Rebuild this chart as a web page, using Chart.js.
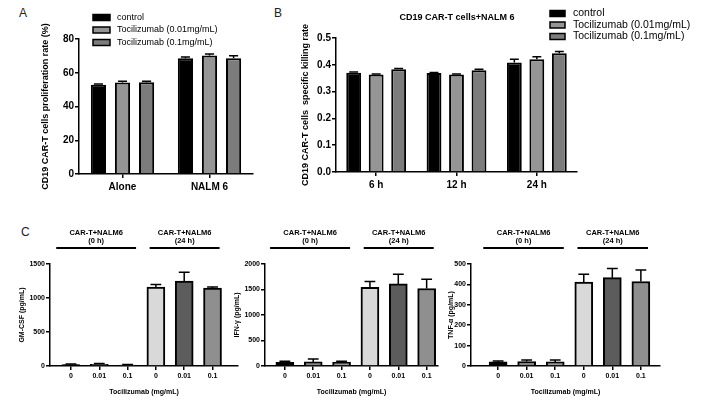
<!DOCTYPE html>
<html>
<head>
<meta charset="utf-8">
<script src="https://cdn.jsdelivr.net/npm/chart.js@4.4.0/dist/chart.umd.min.js"></script>
<style>
  body { margin: 0; background: #fff; }
  #wrap { position: relative; width: 701px; height: 411px; overflow: hidden; font-family: Arial, "Liberation Sans", sans-serif; }
  canvas { position: absolute; }
  .tag { position: absolute; font-size: 12px; color: #222; }
</style>
</head>
<body>
<div id="wrap">
  <div class="tag" style="left:19px;top:6px">A</div>
  <div class="tag" style="left:274px;top:6px">B</div>
  <div class="tag" style="left:21px;top:225px">C</div>
  <canvas id="chartA" width="265" height="200" style="left:0;top:0"></canvas>
  <canvas id="chartB" width="431" height="200" style="left:270px;top:0"></canvas>
  <canvas id="chartGM" width="240" height="216" style="left:0;top:195px"></canvas>
  <canvas id="chartIFN" width="226" height="216" style="left:228px;top:195px"></canvas>
  <canvas id="chartTNF" width="261" height="216" style="left:440px;top:195px"></canvas>
</div>
<script>
// legend groups (panels A and B)
var groupNames = ["control", "Tocilizumab (0.01mg/mL)", "Tocilizumab (0.1mg/mL)"];
var groupColors = ["#000000", "#959595", "#7c7c7c"];

// A - proliferation rate (%)
var prolifLabels = ["Alone", "NALM 6"];
var prolifControl = [52.9, 68.6];
var prolifToci001 = [54.2, 70.2];
var prolifToci01 = [54.4, 68.6];
var prolifControlErr = [0.5, 0.8];
var prolifToci001Err = [0.7, 0.9];
var prolifToci01Err = [0.6, 1.5];

// B - specific killing rate
var killTitle = "CD19 CAR-T cells+NALM 6";
var killLabels = ["6 h", "12 h", "24 h"];
var killControl = [0.370, 0.369, 0.409];
var killToci001 = [0.364, 0.364, 0.421];
var killToci01 = [0.383, 0.380, 0.443];
var killControlErr = [0.003, 0.002, 0.012];
var killToci001Err = [0.002, 0.002, 0.009];
var killToci01Err = [0.003, 0.003, 0.007];

// C - cytokines (pg/mL)
var doseLabels = ["0", "0.01", "0.1", "0", "0.01", "0.1"];
var doseColors = ["#000000", "#858585", "#979797", "#d9d9d9", "#5c5c5c", "#8f8f8f"];
var timeGroups = [["CAR-T+NALM6", "(0 h)"], ["CAR-T+NALM6", "(24 h)"]];
var gmcsf = [20, 25, 15, 1160, 1250, 1145];
var gmcsfErr = [8, 10, 6, 40, 130, 15];
var ifng = [70, 80, 75, 1545, 1610, 1520];
var ifngErr = [25, 55, 20, 110, 190, 180];
var tnfa = [20, 22, 20, 411, 433, 414];
var tnfaErr = [5, 7, 9, 39, 45, 56];

var FONT = 'Arial, "Liberation Sans", Helvetica, sans-serif';
Chart.defaults.font.family = FONT;
Chart.defaults.color = '#000';
Chart.defaults.animation = false;
Chart.defaults.responsive = false;
Chart.defaults.plugins.legend.display = false;
Chart.defaults.plugins.tooltip.enabled = false;

// upper error bars (mean + SD) on top of every bar
var errorBarPlugin = {
    id: 'errorBars',
    afterDatasetsDraw: function (chart) {
        var ctx = chart.ctx;
        var yScale = chart.scales.y;
        ctx.save();
        ctx.strokeStyle = '#000';
        ctx.lineWidth = 1.5;
        chart.data.datasets.forEach(function (ds, di) {
            if (!ds.errors) return;
            var meta = chart.getDatasetMeta(di);
            meta.data.forEach(function (bar, i) {
                var v = typeof ds.data[i] === 'object' ? ds.data[i].y : ds.data[i];
                var top = yScale.getPixelForValue(v + ds.errors[i]);
                var half = bar.width * 0.3;
                ctx.beginPath();
                ctx.moveTo(bar.x, bar.y);
                ctx.lineTo(bar.x, top);
                ctx.moveTo(bar.x - half, top);
                ctx.lineTo(bar.x + half, top);
                ctx.stroke();
            });
        });
        ctx.restore();
    }
};

// legend, panel title and the group brackets above panel C
var decorPlugin = {
    id: 'decor',
    afterDraw: function (chart, args, opts) {
        var ctx = chart.ctx;
        ctx.save();
        ctx.fillStyle = '#000';
        ctx.strokeStyle = '#000';
        if (opts.title) {
            ctx.font = 'bold ' + opts.title.size + 'px ' + FONT;
            ctx.textAlign = 'center';
            ctx.textBaseline = 'middle';
            ctx.fillText(opts.title.text, opts.title.x, opts.title.y);
        }
        if (opts.legend) {
            var lg = opts.legend;
            ctx.font = lg.size + 'px ' + FONT;
            ctx.textAlign = 'left';
            ctx.textBaseline = 'middle';
            ctx.lineWidth = 1.5;
            chart.data.datasets.forEach(function (ds, i) {
                var y = lg.y + i * lg.dy;
                ctx.fillStyle = ds.backgroundColor;
                ctx.fillRect(lg.x, y - lg.h / 2, lg.w, lg.h);
                ctx.strokeRect(lg.x, y - lg.h / 2, lg.w, lg.h);
                ctx.fillStyle = '#000';
                ctx.fillText(ds.label, lg.textX, y);
            });
        }
        if (opts.brackets) {
            var br = opts.brackets;
            var xs = chart.scales.x;
            ctx.lineWidth = 2;
            ctx.font = 'bold ' + br.size + 'px ' + FONT;
            ctx.textAlign = 'center';
            ctx.textBaseline = 'middle';
            br.spans.forEach(function (span, i) {
                var x1 = xs.getPixelForValue(span[0]);
                var x2 = xs.getPixelForValue(span[1]);
                ctx.beginPath();
                ctx.moveTo(x1, br.lineY);
                ctx.lineTo(x2, br.lineY);
                ctx.stroke();
                timeGroups[i].forEach(function (t, k) {
                    ctx.fillText(t, (x1 + x2) / 2, br.textY + k * br.dy);
                });
            });
        }
        ctx.restore();
    }
};

Chart.register(errorBarPlugin, decorPlugin);

function axisLines() {
    return {
        border: { color: '#000', width: 1.5 },
        grid: { drawOnChartArea: false, offset: false, color: '#000', lineWidth: 1.5, tickLength: 4 }
    };
}

function groupedChart(id, labels, values, errors, o) {
    var datasets = values.map(function (vals, i) {
        return {
            label: groupNames[i],
            data: vals,
            errors: errors[i],
            backgroundColor: groupColors[i],
            borderColor: '#000',
            borderWidth: 2,
            categoryPercentage: o.catPct,
            barPercentage: o.barPct
        };
    });
    var xAxis = axisLines();
    xAxis.afterFit = function (s) { s.height = o.xHeight; };
    xAxis.ticks = { padding: 3, maxRotation: 0, autoSkip: false, font: { size: 10, weight: 'bold' } };
    var yAxis = axisLines();
    yAxis.min = 0;
    yAxis.max = o.max;
    yAxis.afterFit = function (s) { s.width = o.yWidth; };
    yAxis.ticks = { stepSize: o.step, padding: 1, font: { size: 10, weight: 'bold' }, callback: o.fmt };
    yAxis.title = { display: true, text: o.yTitle, padding: { top: o.yTitlePad, bottom: 0 }, font: { size: 9, weight: 'bold' } };

    return new Chart(document.getElementById(id).getContext('2d'), {
        type: 'bar',
        data: { labels: labels, datasets: datasets },
        options: {
            layout: { padding: o.padding },
            scales: { x: xAxis, y: yAxis },
            plugins: { decor: o.decor }
        }
    });
}

function doseChart(id, values, errors, o) {
    var points = values.map(function (v, i) { return { x: i, y: v }; });
    var xAxis = axisLines();
    xAxis.type = 'linear';
    xAxis.min = o.xMin;
    xAxis.max = o.xMax;
    xAxis.offset = false;
    xAxis.afterFit = function (s) { s.height = 45; };
    xAxis.ticks = {
        stepSize: 1, includeBounds: false, autoSkip: false, maxRotation: 0, padding: 2,
        font: { size: 7, weight: 'bold' },
        callback: function (v) { return doseLabels[v]; }
    };
    xAxis.title = { display: true, text: 'Tocilizumab (mg/mL)', padding: { top: 0, bottom: 15 }, font: { size: 7, weight: 'bold' } };
    var yAxis = axisLines();
    yAxis.min = 0;
    yAxis.max = o.max;
    yAxis.afterFit = function (s) { s.width = o.yWidth; };
    yAxis.ticks = { stepSize: o.step, padding: 1, font: { size: 7, weight: 'bold' }, callback: function (v) { return String(v); } };
    yAxis.title = { display: true, text: o.yTitle, padding: { top: o.yTitlePad, bottom: 0 }, font: { size: 7, weight: 'bold' } };

    return new Chart(document.getElementById(id).getContext('2d'), {
        type: 'bar',
        data: {
            datasets: [{
                data: points,
                errors: errors,
                backgroundColor: doseColors,
                borderColor: '#000',
                borderWidth: 2,
                barThickness: 18
            }]
        },
        options: {
            layout: { padding: { left: 0, top: 69, right: o.padRight, bottom: 0 } },
            scales: { x: xAxis, y: yAxis },
            plugins: {
                decor: { brackets: { spans: [[-0.52, 2.3], [2.78, 5.25]], lineY: 53, textY: 37.5, dy: 8, size: 7.5 } }
            }
        }
    });
}

var chartProlif = groupedChart('chartA', prolifLabels,
    [prolifControl, prolifToci001, prolifToci01],
    [prolifControlErr, prolifToci001Err, prolifToci01Err], {
        max: 80, step: 20, fmt: function (v) { return v; },
        yTitle: 'CD19 CAR-T cells proliferation rate (%)', yTitlePad: 40, yWidth: 79, xHeight: 26,
        padding: { left: 0, top: 39, right: 12, bottom: 0 },
        catPct: 0.83, barPct: 0.63,
        decor: { legend: { x: 93, textX: 117, y: 17.5, dy: 12.5, w: 17, h: 6, size: 9 } }
    });

var chartKill = groupedChart('chartB', killLabels,
    [killControl, killToci001, killToci01],
    [killControlErr, killToci001Err, killToci01Err], {
        max: 0.5, step: 0.1, fmt: function (v) { return v.toFixed(1); },
        yTitle: 'CD19 CAR-T cells  specific killing rate', yTitlePad: 30, yWidth: 66, xHeight: 28,
        padding: { left: 0, top: 38, right: 124, bottom: 0 },
        catPct: 0.84, barPct: 0.66,
        decor: {
            title: { text: killTitle, x: 187, y: 18, size: 9 },
            legend: { x: 280, textX: 303, y: 13.5, dy: 11.5, w: 15, h: 6, size: 10.5 }
        }
    });

var chartGM = doseChart('chartGM', gmcsf, gmcsfErr, {
    max: 1500, step: 500, yTitle: 'GM-CSF (pg/mL)', yTitlePad: 18, yWidth: 50,
    xMin: -0.74, xMax: 5.9, padRight: 2
});
var chartIFN = doseChart('chartIFN', ifng, ifngErr, {
    max: 2000, step: 500, yTitle: 'IFN-γ (pg/mL)', yTitlePad: 5, yWidth: 37,
    xMin: -0.7, xMax: 5.4, padRight: 16
});
var chartTNF = doseChart('chartTNF', tnfa, tnfaErr, {
    max: 500, step: 100, yTitle: 'TNF-α (pg/mL)', yTitlePad: 7, yWidth: 31,
    xMin: -0.95, xMax: 5.67, padRight: 41
});
</script>
</body>
</html>
